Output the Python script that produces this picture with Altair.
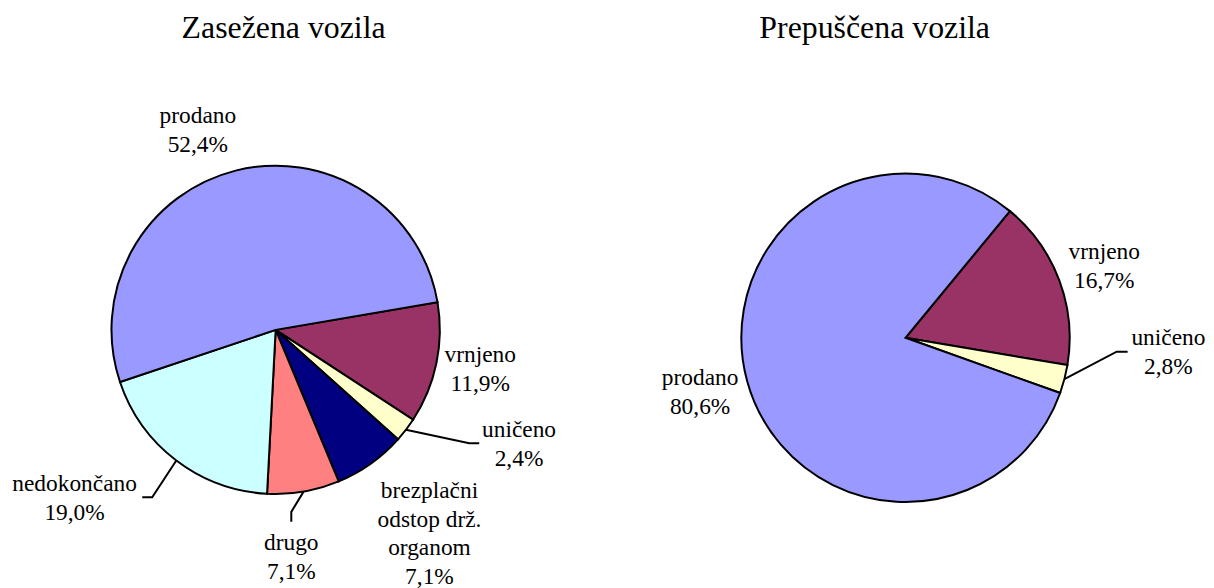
import math
import altair as alt
import pandas as pd

# ---------------- data ----------------
left_title = "Zasežena vozila"
left_categories = ["vrnjeno", "uničeno", "brezplačni odstop drž. organom",
                   "drugo", "nedokončano", "prodano"]
left_values = [11.9, 2.4, 7.1, 7.1, 19.0, 52.4]

right_title = "Prepuščena vozila"
right_categories = ["vrnjeno", "uničeno", "prodano"]
right_values = [16.7, 2.8, 80.6]

color_domain = ["prodano", "vrnjeno", "uničeno",
                "brezplačni odstop drž. organom", "drugo", "nedokončano"]
color_range = ["#9999FF", "#993366", "#FFFFCC", "#000080", "#FF8080", "#CCFFFF"]

# ---------------- layout / style ----------------
FONT = "Liberation Serif"
PIE_R = 165
LABEL_R = 210
LINE_H = 29
label_wrap = {"brezplačni odstop drž. organom": "brezplačni\nodstop drž.\norganom"}

LEFT_W, LEFT_H, LEFT_START = 538, 468, 80.3
RIGHT_W, RIGHT_H, RIGHT_START = 560, 484, 39.5

left_shift = {"prodano": (-27, 3), "vrnjeno": (0, -3), "uničeno": (78, -13),
              "brezplačni odstop drž. organom": (33, 34), "drugo": (-20, 22),
              "nedokončano": (-75, 2)}
left_leaders = {"uničeno": [(-50, -1), (-40, -1)],
                "nedokončano": [(78, -1), (68, -1)],
                "drugo": [(0, -46), (0, -36)]}
right_shift = {"vrnjeno": (3, 2), "uničeno": (61, -38), "prodano": (-4, -1)}
right_leaders = {"uničeno": [(-52, -1), (-41, -1)]}


def pct_text(v):
    return f"{v:.1f}".replace(".", ",") + "%"


def pie_panel(title, cats, vals, start_deg, W, H, shifts, leaders, title_dx):
    total = sum(vals)
    cx, cy = W / 2, H / 2
    start = math.radians(start_deg)
    rows, lead_rows = [], []
    cum = 0.0
    for i, (c, v) in enumerate(zip(cats, vals)):
        mid = start + 2 * math.pi * (cum + v / 2) / total
        cum += v
        ox, oy = shifts.get(c, (0, 0))
        lx = cx + LABEL_R * math.sin(mid) + ox
        ly = cy - LABEL_R * math.cos(mid) + oy
        label = label_wrap.get(c, c) + "\n" + pct_text(v)
        nlines = label.count("\n") + 1
        rows.append(dict(cat=c, value=v, idx=i, label=label,
                         lx=lx, ly=ly - (nlines - 1) * LINE_H / 2))
        if c in leaders:
            pts = [(cx + PIE_R * math.sin(mid), cy - PIE_R * math.cos(mid))]
            pts += [(lx + dx, ly + dy) for dx, dy in leaders[c]]
            for k, (px, py) in enumerate(pts):
                lead_rows.append(dict(cat=c, k=k, px=px, py=py))
    df = pd.DataFrame(rows)
    base = alt.Chart(df)
    arcs = base.mark_arc(outerRadius=PIE_R, stroke="black", strokeWidth=2).encode(
        theta=alt.Theta("value:Q", stack=True,
                        scale=alt.Scale(range=[start, start + 2 * math.pi])),
        color=alt.Color("cat:N", scale=alt.Scale(domain=color_domain, range=color_range),
                        legend=None),
        order=alt.Order("idx:Q"),
    )
    texts = base.mark_text(font=FONT, fontSize=23.5, lineBreak="\n", lineHeight=LINE_H,
                           align="center", baseline="middle", color="black").encode(
        x=alt.X("lx:Q", scale=None, axis=None),
        y=alt.Y("ly:Q", scale=None, axis=None),
        text="label:N",
    )
    layers = [arcs, texts]
    if lead_rows:
        lines = alt.Chart(pd.DataFrame(lead_rows)).mark_line(
            color="black", strokeWidth=2).encode(
            x=alt.X("px:Q", scale=None, axis=None),
            y=alt.Y("py:Q", scale=None, axis=None),
            detail="cat:N",
            order="k:Q",
        )
        layers.append(lines)
    return alt.layer(*layers).properties(
        width=W, height=H,
        title=alt.TitleParams(title, font=FONT, fontSize=32, fontWeight="normal",
                              color="black", anchor="middle", frame="group",
                              offset=27, baseline="alphabetic", dx=title_dx),
    )


left = pie_panel(left_title, left_categories, left_values, LEFT_START, LEFT_W, LEFT_H,
                 left_shift, left_leaders, 8)
right = pie_panel(right_title, right_categories, right_values, RIGHT_START, RIGHT_W,
                  RIGHT_H, right_shift, right_leaders, -31)

chart = alt.hconcat(left, right, spacing=84, bounds="flush").resolve_scale(
    theta="independent", x="independent", y="independent"
).properties(
    padding={"left": 0, "top": 3, "right": 0, "bottom": 0}
).configure_view(stroke=None)

chart.save("out.html", embed_options={"renderer": "svg", "actions": False})
